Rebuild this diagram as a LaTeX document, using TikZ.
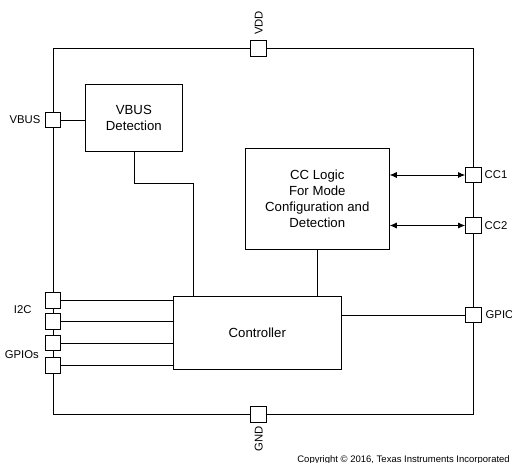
\documentclass[tikz,border=0pt]{standalone}
\usepackage{fontspec}
\setmainfont{Liberation Sans}
\usetikzlibrary{arrows.meta}
\begin{document}
\begin{tikzpicture}[x=1pt,y=-1pt,
  blk/.style={draw,line width=0.9pt,fill=white,inner sep=0pt,align=center,font=\fontsize{13.2}{15.9}\selectfont},
  pin/.style={draw,line width=0.9pt,fill=white,minimum size=15.5pt,inner sep=0pt},
  lbl/.style={inner sep=0pt,font=\fontsize{11.3}{13}\selectfont},
  wire/.style={line width=0.7pt},
  dbl/.style={line width=0.7pt,{Latex[length=7pt,width=6pt]}-{Latex[length=7pt,width=6pt]}}]
\useasboundingbox (0,0) rectangle (512,463);
% outer chip
\node[draw,line width=0.9pt,minimum width=420.3pt,minimum height=366.1pt,inner sep=0pt] (chip) at (263.15,231.25) {};
% blocks
\node[blk,minimum width=96.3pt,minimum height=67.3pt] (vbusdet) at (133.85,117.65) {VBUS\\Detection};
\node[blk,minimum width=144pt,minimum height=101pt] (cc) at (317.3,198.5) {CC Logic\\For Mode\\Configuration and\\Detection};
\node[blk,minimum width=168pt,minimum height=72.6pt] (ctrl) at (257.3,333) {Controller};
% pins
\node[pin] (vdd) at (258.5,48.2) {};
\node[pin] (gnd) at (258.5,414.5) {};
\node[pin] (vbus) at (53,120) {};
\node[pin] (i2ca) at (53,300.5) {};
\node[pin] (i2cb) at (53,321.5) {};
\node[pin] (gpa) at (53,343) {};
\node[pin] (gpb) at (53,365.3) {};
\node[pin] (cc1) at (473.3,175) {};
\node[pin] (cc2) at (473.3,225.5) {};
\node[pin] (gpio) at (473.3,315) {};
% labels
\node[lbl,rotate=90] (lvdd) at (258.8,23) {VDD};
\node[lbl,rotate=90] (lgnd) at (258.8,439) {GND};
\node[lbl,anchor=east] (lvbus) at (40.5,120) {VBUS};
\node[lbl] (li2c) at (22.7,310) {I2C};
\node[lbl] (lgpios) at (21.8,355) {GPIOs};
\node[lbl,anchor=west] (lcc1) at (484.5,175) {CC1};
\node[lbl,anchor=west] (lcc2) at (484.5,225.5) {CC2};
\node[lbl,anchor=west] (lgpio) at (485.5,315) {GPIO};
\node[inner sep=0pt,anchor=base east,font=\fontsize{9.5}{11}\selectfont] (copy) at (510,462.3) {Copyright © 2016, Texas Instruments Incorporated};
% connectors
\draw[wire] (vbus.east) -- (vbus.east -| vbusdet.west);
\coordinate (j1) at (193.7,183);
\draw[wire] (vbusdet.south) |- (j1) -- (j1 |- ctrl.north);
\draw[wire] (cc.south) -- (cc.south |- ctrl.north);
\draw[wire] (i2ca.east) -- (i2ca.east -| ctrl.west);
\draw[wire] (i2cb.east) -- (i2cb.east -| ctrl.west);
\draw[wire] (gpa.east) -- (gpa.east -| ctrl.west);
\draw[wire] (gpb.east) -- (gpb.east -| ctrl.west);
\draw[wire] (gpio.west) -- (gpio.west -| ctrl.east);
\draw[dbl] (cc1.west -| cc.east) -- (cc1.west);
\draw[dbl] (cc2.west -| cc.east) -- (cc2.west);
\end{tikzpicture}
\end{document}
